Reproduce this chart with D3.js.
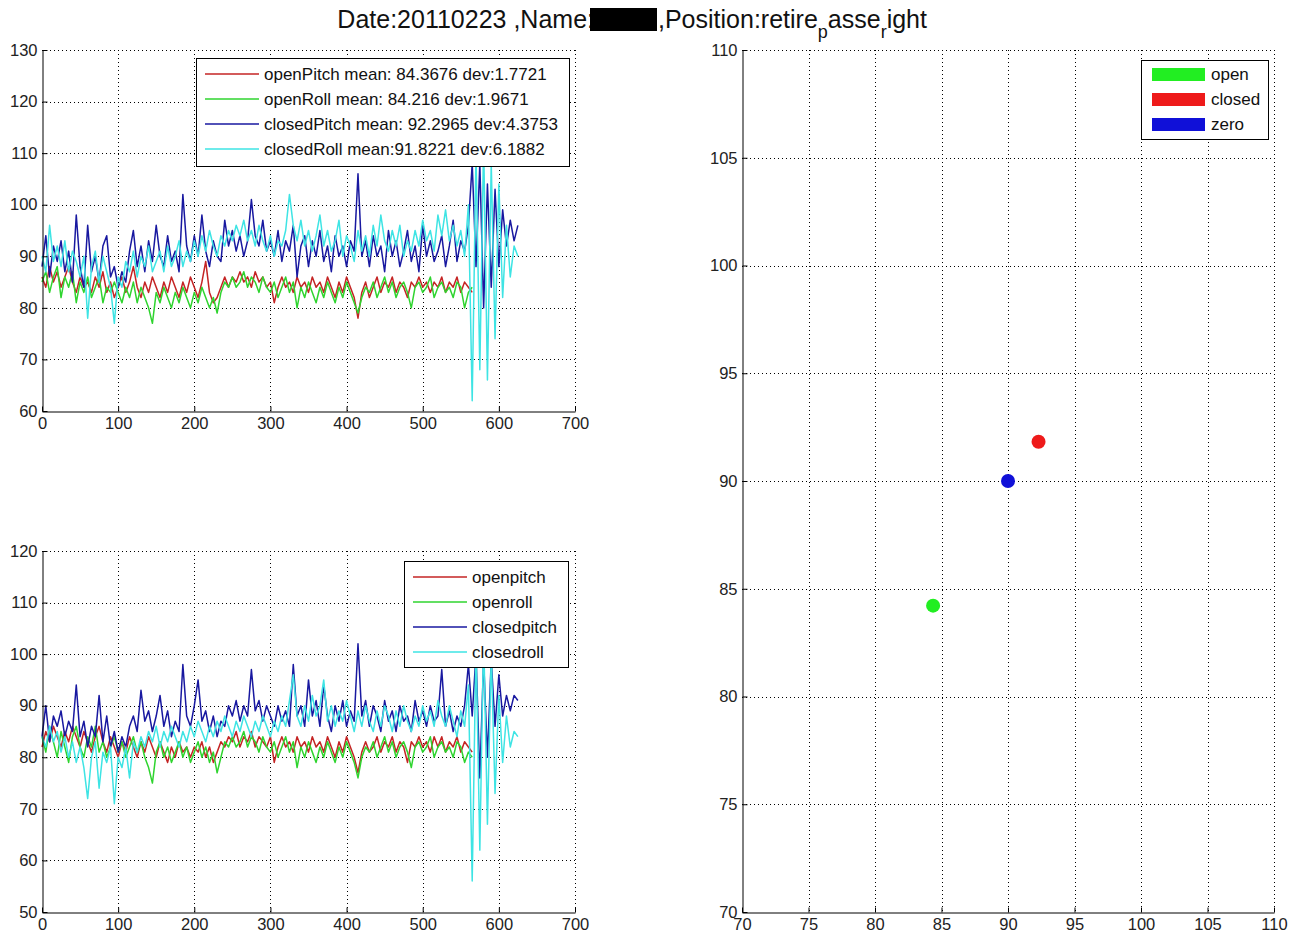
<!DOCTYPE html>
<html>
  <head>
    <style>
      html,
      body { margin: 0; background: #fff; }
      svg { display: block; font-family: "Liberation Sans", Arial, sans-serif; }
    </style>
    <script src="https://d3js.org/d3.v7.js"></script>
  </head>
  <body>
    <svg class="chart"></svg>

    <script>
      const width = 1302;
      const height = 937;
      const step = 5; // samples between two readings

      // upper panel, read every 5 samples
      const topOpenPitch = [
        86,84,88,85,87,84,86,88,85,83, 86,84,85,83,86,84,87,83,85,82,
        84,86,83,85,88,84,82,85,83,86, 84,82,85,83,86,84,82,85,83,86,
        84,82,85,89,83,81,82,84,86,84, 86,85,87,85,86,84,87,85,86,84,
        85,81,84,86,84,85,83,86,84,85, 83,86,84,85,83,86,84,82,85,83,
        86,84,82,78,83,85,82,84,86,83, 85,84,86,83,85,84,82,85,84,86,
        84,85,83,85,84,86,83,85,84,86, 83,85,84,83
      ];
      const topOpenRoll = [
        85,87,83,86,88,82,86,84,87,81, 85,83,86,82,84,86,81,84,83,85,
        83,81,84,82,85,81,84,82,80,77, 83,81,84,82,80,83,81,84,82,80,
        83,81,84,82,80,82,79,83,85,84, 86,84,85,87,84,86,85,83,86,84,
        83,85,82,84,86,83,85,80,84,82, 85,83,81,84,82,85,83,81,84,82,
        85,83,81,79,82,84,83,85,82,84, 86,83,85,82,84,85,83,80,84,85,
        83,84,86,82,84,85,83,84,82,85, 84,80,83,84
      ];
      const topClosedPitch = [
        88,94,86,92,89,93,87,91,85,98, 88,84,96,87,90,85,92,94,86,88,
        84,87,85,91,95,88,92,87,93,89, 96,90,88,94,89,91,87,102,92,89,
        94,90,98,91,88,93,90,89,97,92, 95,91,94,90,93,101,94,92,97,91,
        93,90,95,89,93,91,96,86,92,94, 88,93,90,95,89,92,87,94,90,92,
        88,93,91,106,90,93,88,94,90,92, 87,95,90,93,88,91,95,89,92,87,
        96,90,93,89,91,94,88,92,97,89, 93,91,96,108,88,108,80,104,84,103,
        88,99,92,97,93,96
      ];
      const topClosedRoll = [
        90,87,96,89,92,88,93,87,91,89, 86,90,78,88,91,85,90,87,84,77,
        86,84,89,87,91,86,90,88,92,87, 89,91,87,92,88,90,93,88,91,89,
        93,90,94,91,95,92,90,94,92,95, 93,96,94,97,93,95,92,96,93,91,
        94,90,93,92,95,102,96,93,97,92, 95,91,94,98,92,95,91,93,97,90,
        94,92,89,95,91,94,90,96,92,98, 93,91,95,92,96,90,93,91,95,92,
        97,93,95,91,98,94,99,93,96,92, 95,90,100,62,110,68,112,66,108,74,
        104,82,96,86,92,90
      ];

      // lower panel, read every 5 samples
      const bottomOpenPitch = [
        82,85,83,86,84,82,85,83,86,84, 82,85,83,81,84,86,83,81,84,82,
        80,83,81,84,82,80,83,81,84,82, 80,83,81,79,82,80,83,81,82,80,
        82,81,83,80,82,79,81,83,82,84, 83,85,82,84,83,85,82,84,83,82,
        84,79,82,84,82,83,81,84,82,83, 81,84,82,83,81,84,82,80,83,81,
        84,82,80,77,81,83,81,82,84,81, 83,82,84,81,83,82,79,83,82,84,
        82,83,81,84,82,84,81,83,82,84, 81,83,82,81
      ];
      const bottomOpenRoll = [
        84,81,86,83,80,85,82,79,84,86, 82,80,84,82,86,81,83,80,82,84,
        81,83,80,82,84,81,83,80,78,75, 81,83,80,82,79,81,83,80,82,79,
        81,83,80,82,79,81,77,80,83,82, 84,82,83,85,82,84,83,81,84,82,
        81,83,80,82,84,81,83,78,82,80, 83,81,79,82,80,83,81,79,82,80,
        83,81,79,76,80,82,81,83,80,82, 84,81,83,80,82,83,81,78,82,83,
        81,82,84,80,82,83,81,82,80,83, 82,79,81,80
      ];
      const bottomClosedPitch = [
        84,90,83,88,86,89,84,87,85,94, 84,87,82,86,84,92,83,88,82,85,
        81,84,82,86,88,85,93,87,89,85, 88,92,86,89,84,87,85,98,88,86,
        90,95,87,89,85,88,84,87,86,90, 88,91,87,90,88,97,89,91,87,90,
        88,86,90,87,89,86,98,88,90,86, 95,88,91,86,94,88,85,90,87,91,
        86,89,87,102,88,91,86,90,88,85, 91,87,89,85,90,87,88,85,91,87,
        89,86,90,87,88,97,86,89,85,88, 86,90,98,88,100,76,99,80,99,86,
        96,88,92,89,92,91
      ];
      const bottomClosedRoll = [
        84,82,86,83,85,81,84,80,83,79, 82,78,72,80,83,74,81,79,82,71,
        80,78,82,76,83,81,84,82,85,83, 86,82,85,83,86,84,82,85,83,86,
        84,87,85,83,86,84,87,85,88,86, 84,87,85,88,86,84,87,85,88,86,
        84,87,85,88,86,91,96,88,86,90, 87,92,88,90,95,87,90,86,89,87,
        91,88,85,89,86,90,87,85,89,86, 90,88,85,89,86,90,87,85,88,86,
        90,87,89,86,91,88,86,90,87,84, 89,86,94,56,102,62,104,67,100,73,
        92,79,88,82,85,84
      ];

      const topLabels = [
        'openPitch mean: 84.3676 dev:1.7721',
        'openRoll mean: 84.216 dev:1.9671',
        'closedPitch mean: 92.2965 dev:4.3753',
        'closedRoll mean:91.8221 dev:6.1882'
      ];
      const bottomLabels = ['openpitch', 'openroll', 'closedpitch', 'closedroll'];
      const lineColors = ['#c42424', '#2fd42f', '#1818a0', '#3ee4e4'];

      const timeTicks = [0, 100, 200, 300, 400, 500, 600, 700];
      const topTicks = [60, 70, 80, 90, 100, 110, 120, 130];
      const bottomTicks = [50, 60, 70, 80, 90, 100, 110, 120];

      // right panel: mean positions
      const posNames = ['open', 'closed', 'zero'];
      const posX = [84.3676, 92.2965, 90];
      const posY = [84.216, 91.8221, 90];
      const posColors = ['#22ee22', '#ee1a1a', '#1010d8'];
      const posTicks = [70, 75, 80, 85, 90, 95, 100, 105, 110];

      const svg = d3.select('svg')
        .attr('width', width)
        .attr('height', height);

      // MATLAB-like axes: dotted grid, left and bottom axis lines, inward ticks
      const drawAxes = (box, xTicks, yTicks) => {
        const x = d3.scaleLinear().domain(d3.extent(xTicks)).range([box.left, box.right]);
        const y = d3.scaleLinear().domain(d3.extent(yTicks)).range([box.bottom, box.top]);
        const g = svg.append('g');

        const grid = g.append('g')
          .attr('stroke', '#000')
          .attr('stroke-width', 1)
          .attr('stroke-dasharray', '1,3');
        grid.selectAll('.gx')
          .data(xTicks.slice(1))
          .join('line')
          .attr('x1', (d) => Math.round(x(d)) + 0.5)
          .attr('x2', (d) => Math.round(x(d)) + 0.5)
          .attr('y1', box.top)
          .attr('y2', box.bottom);
        grid.selectAll('.gy')
          .data(yTicks.slice(1))
          .join('line')
          .attr('class', 'gy')
          .attr('x1', box.left)
          .attr('x2', box.right)
          .attr('y1', (d) => Math.round(y(d)) + 0.5)
          .attr('y2', (d) => Math.round(y(d)) + 0.5);

        const plot = g.append('g');

        return { x, y, g, plot };
      };

      const finishAxes = (ax, box, xTicks, yTicks) => {
        const xAxis = ax.g.append('g')
          .attr('transform', `translate(0,${box.bottom + 0.5})`)
          .call(d3.axisBottom(ax.x).tickValues(xTicks).tickSize(-5).tickSizeOuter(0).tickPadding(6));
        const yAxis = ax.g.append('g')
          .attr('transform', `translate(${box.left + 0.5},0)`)
          .call(d3.axisLeft(ax.y).tickValues(yTicks).tickSize(-5).tickSizeOuter(0).tickPadding(5));

        [xAxis, yAxis].forEach((a) => {
          a.attr('font-family', null).attr('font-size', 16.5);
          a.selectAll('path, line').attr('stroke', '#000');
          a.selectAll('text').attr('fill', '#222');
        });
      };

      const drawLegend = (box, labels, fontSize) => {
        const g = svg.append('g');
        g.append('rect')
          .attr('x', box.x + 0.5)
          .attr('y', box.y + 0.5)
          .attr('width', box.w)
          .attr('height', box.h)
          .attr('fill', '#fff')
          .attr('stroke', '#000');

        const rows = g.selectAll('g')
          .data(labels)
          .join('g')
          .attr('transform', (d, i) => `translate(${box.x},${box.y + 16 + i * 25})`);
        rows.append('line')
          .attr('x1', 9)
          .attr('x2', 63)
          .attr('stroke', (d, i) => lineColors[i])
          .attr('stroke-width', 1.3);
        rows.append('text')
          .attr('x', 68)
          .attr('dy', '0.35em')
          .attr('font-size', fontSize)
          .attr('fill', '#111')
          .text((d) => d);
      };

      const drawSeries = (ax, seriesList) => {
        const line = d3.line()
          .x((d, i) => ax.x(i * step))
          .y((d) => ax.y(d));
        ax.plot.selectAll('path')
          .data(seriesList)
          .join('path')
          .attr('d', (d) => line(d))
          .attr('fill', 'none')
          .attr('stroke', (d, i) => lineColors[i])
          .attr('stroke-width', 1.5)
          .attr('stroke-linejoin', 'round');
      };

      // upper left panel
      const topBox = { left: 42, right: 575, top: 50, bottom: 411 };
      const topAx = drawAxes(topBox, timeTicks, topTicks);
      drawSeries(topAx, [topOpenPitch, topOpenRoll, topClosedPitch, topClosedRoll]);
      finishAxes(topAx, topBox, timeTicks, topTicks);
      drawLegend({ x: 196, y: 58, w: 373, h: 108 }, topLabels, 17);

      // lower left panel
      const bottomBox = { left: 42, right: 575, top: 551, bottom: 912 };
      const bottomAx = drawAxes(bottomBox, timeTicks, bottomTicks);
      drawSeries(bottomAx, [bottomOpenPitch, bottomOpenRoll, bottomClosedPitch, bottomClosedRoll]);
      finishAxes(bottomAx, bottomBox, timeTicks, bottomTicks);
      drawLegend({ x: 404, y: 561, w: 164, h: 106 }, bottomLabels, 17);

      // right panel
      const posBox = { left: 742, right: 1274, top: 50, bottom: 912 };
      const posAx = drawAxes(posBox, posTicks, posTicks);
      posAx.plot.selectAll('circle')
        .data(posNames)
        .join('circle')
        .attr('cx', (d, i) => posAx.x(posX[i]))
        .attr('cy', (d, i) => posAx.y(posY[i]))
        .attr('r', 7)
        .attr('fill', (d, i) => posColors[i]);
      finishAxes(posAx, posBox, posTicks, posTicks);

      const posLegend = svg.append('g');
      posLegend.append('rect')
        .attr('x', 1141.5)
        .attr('y', 60.5)
        .attr('width', 127)
        .attr('height', 79)
        .attr('fill', '#fff')
        .attr('stroke', '#000');
      const posRows = posLegend.selectAll('g')
        .data(posNames)
        .join('g')
        .attr('transform', (d, i) => `translate(1141,${74 + i * 25})`);
      posRows.append('rect')
        .attr('x', 11)
        .attr('y', -6)
        .attr('width', 53)
        .attr('height', 13)
        .attr('fill', (d, i) => posColors[i]);
      posRows.append('text')
        .attr('x', 70)
        .attr('dy', '0.35em')
        .attr('font-size', 17)
        .attr('fill', '#111')
        .text((d) => d);

      // title, with the redacted name box and TeX-style subscripts
      const title = svg.append('g').attr('font-size', 25).attr('fill', '#111');
      title.append('text')
        .attr('x', 594)
        .attr('y', 28)
        .attr('text-anchor', 'end')
        .text('Date:20110223 ,Name:');
      title.append('rect')
        .attr('x', 590)
        .attr('y', 8)
        .attr('width', 67)
        .attr('height', 23)
        .attr('fill', '#000');
      const rightTitle = title.append('text')
        .attr('x', 658)
        .attr('y', 28);
      rightTitle.append('tspan').text(',Position:retire');
      rightTitle.append('tspan').attr('dy', 10).attr('font-size', 18).text('p');
      rightTitle.append('tspan').attr('dy', -10).text('asse');
      rightTitle.append('tspan').attr('dy', 10).attr('font-size', 18).text('r');
      rightTitle.append('tspan').attr('dy', -10).text('ight');
    </script>
  </body>
</html>
